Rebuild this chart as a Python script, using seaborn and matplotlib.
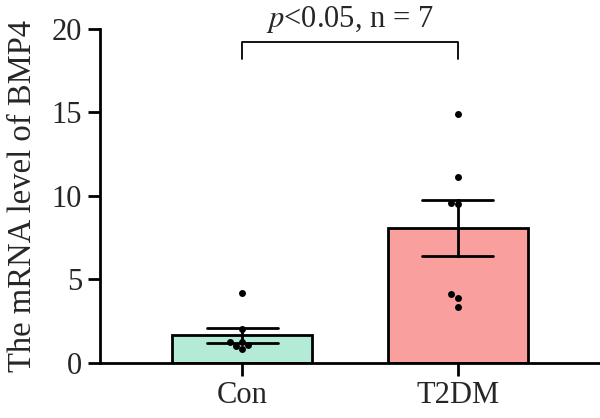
import seaborn as sns
import matplotlib.pyplot as plt
import pandas as pd

groups = ['Con', 'T2DM']
con_vals = [4.2, 2.0, 1.25, 0.8, 1.05, 1.25, 1.0]
t2dm_vals = [14.9, 11.1, 9.6, 9.5, 4.1, 3.9, 3.35]
bar_colors = ['#b3ebd6', '#f9a09f']

df = pd.DataFrame({
    'group': ['Con'] * len(con_vals) + ['T2DM'] * len(t2dm_vals),
    'value': con_vals + t2dm_vals,
})

sns.set_style('ticks')
plt.rcParams['font.family'] = ['Liberation Serif', 'DejaVu Serif']
plt.rcParams['mathtext.fontset'] = 'stix'

fig = plt.figure(figsize=(6, 4.18), dpi=100)
ax = fig.add_axes([0.167, 0.132, 0.833, 0.799])

sns.barplot(data=df, x='group', y='value', order=groups, hue='group',
            palette=bar_colors, saturation=1, errorbar='se', capsize=0.33,
            width=0.65, edgecolor='black', linewidth=2,
            err_kws={'color': 'black', 'linewidth': 2}, ax=ax, legend=False)
sns.swarmplot(data=df, x='group', y='value', order=groups, color='black',
              size=5, ax=ax)

ax.set_ylim(0, 20)
ax.set_xlim(-0.66, 1.66)
ax.set_yticks([0, 5, 10, 15, 20])
ax.set_xlabel('')
ax.set_ylabel('The mRNA level of BMP4', fontsize=23.5, labelpad=10)
ax.tick_params(axis='both', labelsize=22, width=2, length=9, color='black', pad=4)
sns.despine(ax=ax)
for s in ['left', 'bottom']:
    ax.spines[s].set_linewidth(2)
    ax.spines[s].set_color('black')

# significance bracket
ax.plot([0, 0, 1, 1], [18.2, 19.2, 19.2, 18.2], color='black', lw=1.3, clip_on=False)
ax.text(0.5, 20.1, r'$\it{p}$<0.05, n = 7', ha='center', va='baseline', fontsize=22,
        clip_on=False)

fig.savefig('out.png', dpi=100)
